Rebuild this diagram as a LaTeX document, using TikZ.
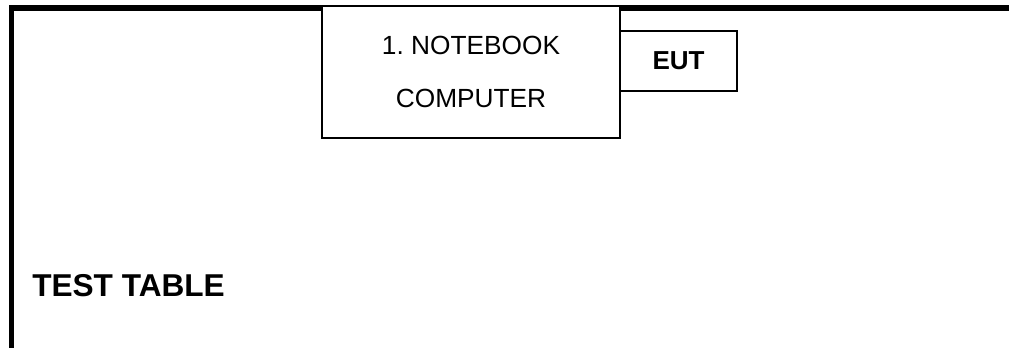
\documentclass[tikz,border=0pt]{standalone}
\usepackage{fontspec}
\setmainfont{Liberation Sans}
\usetikzlibrary{positioning}

\begin{document}
\begin{tikzpicture}[x=0.75pt, y=-0.75pt,
  unit/.style={rectangle, minimum width=3cm, minimum height=1cm, text centered, align=center, draw=black, fill=white, line width=1.1pt, outer sep=0pt},
  tabletext/.style={anchor=base west, inner sep=0pt, font=\fontsize{23.7}{28}\selectfont\bfseries}]

  \useasboundingbox (0,0) rectangle (1009,348);

  % Table edge
  \draw [line width=4pt] (11.5,348) -- (11.5,8) -- (1009,8);

  % Nodes
  \node (notebook) [unit, minimum width=223.5pt, minimum height=99pt, font=\fontsize{19.7}{39.75}\selectfont\frenchspacing] at (471,72) {1. NOTEBOOK \\ COMPUTER};
  \node (eut) [unit, below right=18.75pt and 0pt of notebook.north east, minimum width=87.75pt, minimum height=45pt, font=\fontsize{19.5}{23}\selectfont\bfseries] {EUT};
  \node (testtable) [tabletext] at (32,297) {TEST TABLE};

\end{tikzpicture}
\end{document}
